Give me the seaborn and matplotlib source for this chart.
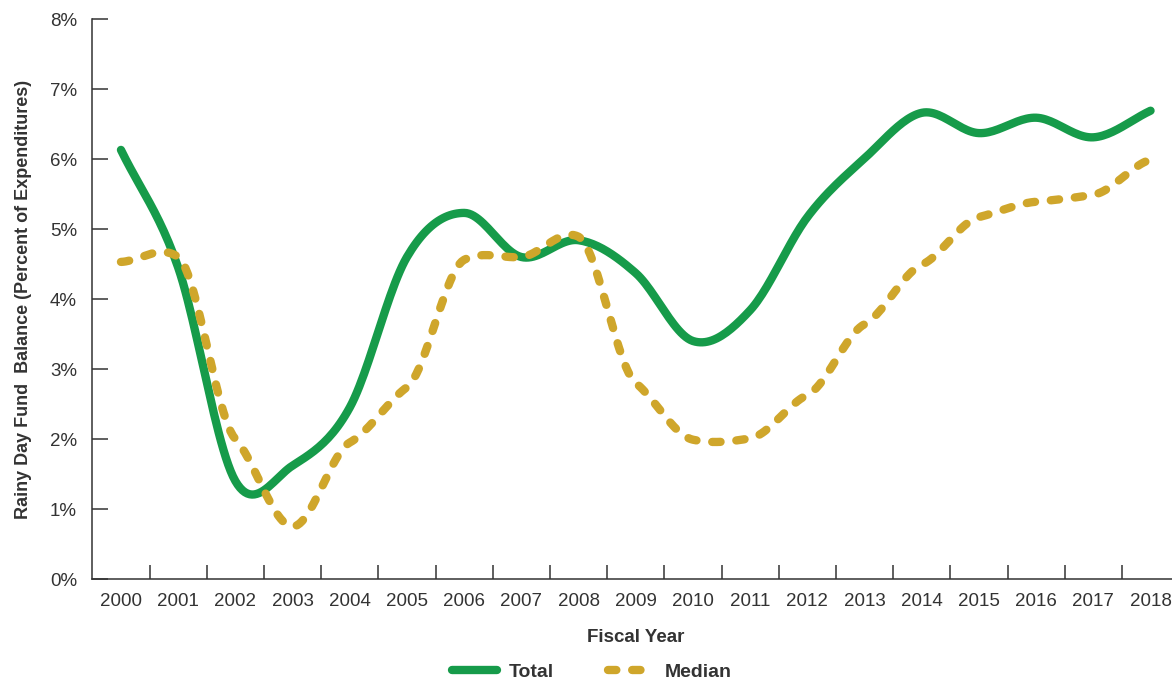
import numpy as np
import pandas as pd
import seaborn as sns
import matplotlib
matplotlib.use("Agg")
import matplotlib.pyplot as plt
from matplotlib import font_manager
from matplotlib.lines import Line2D

years = [str(y) for y in range(2000, 2019)]
total = [6.13, 4.45, 1.40, 1.62, 2.45, 4.60, 5.23, 4.60, 4.84, 4.37, 3.40,
         3.84, 5.17, 6.01, 6.66, 6.37, 6.59, 6.31, 6.69]
median = [4.53, 4.60, 2.00, 0.75, 1.95, 2.74, 4.56, 4.60, 4.89, 2.80, 1.99,
          2.01, 2.63, 3.64, 4.49, 5.17, 5.39, 5.49, 5.99]
yticks = [0, 1, 2, 3, 4, 5, 6, 7, 8]

GREEN = "#169b4a"
GOLD = "#cfa62b"
TXT = "#333333"


def smooth(vals, tension=1.0, steps=24):
    # cardinal spline through the yearly values (the original draws smoothed lines)
    p = np.asarray(vals, dtype=float)
    n = len(p)
    m = np.empty(n)
    m[1:-1] = (p[2:] - p[:-2]) / 2
    m[0] = p[1] - p[0]
    m[-1] = p[-1] - p[-2]
    m *= tension
    xs, ys = [], []
    t = np.linspace(0, 1, steps, endpoint=False)
    h00 = 2 * t**3 - 3 * t**2 + 1
    h10 = t**3 - 2 * t**2 + t
    h01 = -2 * t**3 + 3 * t**2
    h11 = t**3 - t**2
    for i in range(n - 1):
        xs.append(i + t)
        ys.append(h00 * p[i] + h10 * m[i] + h01 * p[i + 1] + h11 * m[i + 1])
    xs.append([n - 1])
    ys.append([p[-1]])
    return np.concatenate(xs), np.concatenate(ys)


sns.set_theme(style="white")
names = {f.name for f in font_manager.fontManager.ttflist}
fam = "Liberation Sans Narrow" if "Liberation Sans Narrow" in names else "Liberation Sans"
plt.rcParams["font.family"] = [fam, "DejaVu Sans"]

xt, yt = smooth(total, 1.0)
xm, ym = smooth(median, 0.45)
df = pd.concat([
    pd.DataFrame({"x": xt, "pct": yt, "series": "Total"}),
    pd.DataFrame({"x": xm, "pct": ym, "series": "Median"}),
])

fig = plt.figure(figsize=(11.72, 6.84), dpi=100)
ax = fig.add_axes([0.0788, 0.1535, 0.9273, 0.8187])

sns.lineplot(data=df[df.series == "Total"], x="x", y="pct", ax=ax, color=GREEN,
             lw=6, solid_capstyle="round", legend=False, estimator=None)
sns.lineplot(data=df[df.series == "Median"], x="x", y="pct", ax=ax, color=GOLD,
             lw=6, legend=False, estimator=None)
ax.lines[-1].set_dashes((1.0, 1.9))
ax.lines[-1].set_dash_capstyle("round")

ax.set_xlim(-0.5, len(years) - 0.5)
ax.set_ylim(0, 8)
ax.set_yticks(yticks)
ax.set_yticklabels([f"{v}%" for v in yticks])
ax.set_xticks(range(len(years)))
ax.set_xticklabels(years)
ax.set_xticks(np.arange(0.5, len(years) - 0.5, 1), minor=True)

ax.tick_params(axis="x", which="major", length=0, pad=10, labelsize=13.5, labelcolor=TXT)
ax.tick_params(axis="x", which="minor", direction="in", length=10, width=1.1, color=TXT, bottom=True)
ax.tick_params(axis="y", direction="in", length=11.5, width=1.1, color=TXT, left=True,
               pad=11, labelsize=13.5, labelcolor=TXT)

for s in ["top", "right"]:
    ax.spines[s].set_visible(False)
for s in ["left", "bottom"]:
    ax.spines[s].set_color(TXT)
    ax.spines[s].set_linewidth(1.1)

ax.set_xlabel("Fiscal Year", fontsize=13.5, fontweight="bold", color=TXT, labelpad=14)
ax.set_ylabel("Rainy Day Fund  Balance (Percent of Expenditures)", fontsize=13,
              fontweight="bold", color=TXT, labelpad=13)

handles = [
    Line2D([0], [0], color=GREEN, lw=6, solid_capstyle="round"),
    Line2D([0], [0], color=GOLD, lw=6, dashes=(1.0, 1.9), dash_capstyle="round"),
]
fig.legend(handles, ["Total", "Median"], loc="center", bbox_to_anchor=(0.505, 0.017),
           ncol=2, frameon=False, handlelength=2.3, columnspacing=2.8, handletextpad=0.6,
           prop={"weight": "bold", "size": 14})
for t in fig.legends[0].get_texts():
    t.set_color(TXT)

fig.savefig("out.png", dpi=100)
